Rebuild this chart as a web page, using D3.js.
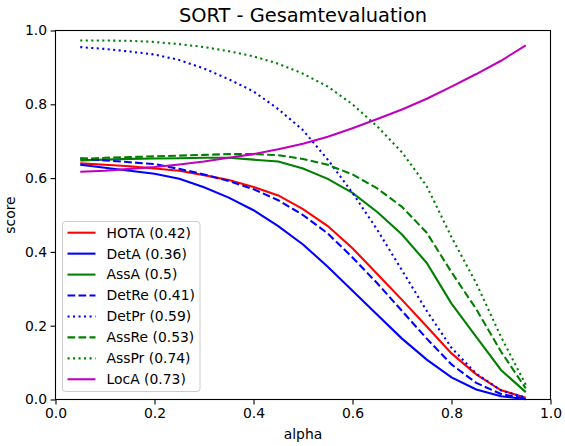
<!DOCTYPE html>
<html lang="en">
<head>
  <meta charset="UTF-8">
  <title>SORT - Gesamtevaluation</title>
  <style>
    body { margin: 0; background: #fff; }
    text { font-family: "DejaVu Sans", sans-serif; }
  </style>
</head>
<body>

  <svg id="svg" width="565" height="446"></svg>

  <script src="https://d3js.org/d3.v7.min.js"></script>
  <script>

    // alpha thresholds
    const alpha = [0.05, 0.1, 0.15, 0.2, 0.25, 0.3, 0.35, 0.4, 0.45, 0.5,
                   0.55, 0.6, 0.65, 0.7, 0.75, 0.8, 0.85, 0.9, 0.95]

    const hota  = [0.640, 0.636, 0.632, 0.626, 0.620, 0.608, 0.595, 0.576, 0.553, 0.516,
                   0.470, 0.410, 0.340, 0.270, 0.198, 0.125, 0.068, 0.025, 0.005]
    const detA  = [0.636, 0.628, 0.620, 0.612, 0.598, 0.575, 0.547, 0.513, 0.470, 0.420,
                   0.360, 0.295, 0.230, 0.165, 0.108, 0.060, 0.027, 0.009, 0.001]
    const assA  = [0.648, 0.650, 0.652, 0.653, 0.654, 0.655, 0.655, 0.650, 0.645, 0.626,
                   0.598, 0.560, 0.508, 0.447, 0.370, 0.260, 0.170, 0.080, 0.020]
    const detRe = [0.654, 0.648, 0.643, 0.638, 0.625, 0.610, 0.592, 0.570, 0.540, 0.500,
                   0.450, 0.385, 0.315, 0.240, 0.165, 0.095, 0.045, 0.015, 0.002]
    const detPr = [0.955, 0.950, 0.943, 0.935, 0.920, 0.897, 0.868, 0.835, 0.787, 0.730,
                   0.650, 0.560, 0.460, 0.350, 0.240, 0.140, 0.070, 0.025, 0.005]
    const assRe = [0.652, 0.655, 0.657, 0.659, 0.661, 0.663, 0.665, 0.665, 0.662, 0.652,
                   0.636, 0.610, 0.572, 0.522, 0.452, 0.345, 0.245, 0.130, 0.030]
    const assPr = [0.973, 0.973, 0.972, 0.969, 0.963, 0.955, 0.944, 0.930, 0.910, 0.883,
                   0.848, 0.800, 0.740, 0.670, 0.578, 0.440, 0.315, 0.170, 0.040]
    const locA  = [0.617, 0.620, 0.625, 0.630, 0.637, 0.645, 0.655, 0.665, 0.678, 0.693,
                   0.712, 0.735, 0.760, 0.786, 0.815, 0.848, 0.882, 0.918, 0.960]

    const labels = ['HOTA (0.42)', 'DetA (0.36)', 'AssA (0.5)', 'DetRe (0.41)',
                    'DetPr (0.59)', 'AssRe (0.53)', 'AssPr (0.74)', 'LocA (0.73)']
    const tickValues = [0, 0.2, 0.4, 0.6, 0.8, 1.0]

    const series = [
      { name: labels[0], values: hota,  color: '#ff0000', dash: null },
      { name: labels[1], values: detA,  color: '#0000ff', dash: null },
      { name: labels[2], values: assA,  color: '#008000', dash: null },
      { name: labels[3], values: detRe, color: '#0000ff', dash: '7.7,3.3' },
      { name: labels[4], values: detPr, color: '#0000ff', dash: '2.1,3.4' },
      { name: labels[5], values: assRe, color: '#008000', dash: '7.7,3.3' },
      { name: labels[6], values: assPr, color: '#008000', dash: '2.1,3.4' },
      { name: labels[7], values: locA,  color: '#bf00bf', dash: null }
    ]

    const mLeft = 55.5, mRight = 550.5, mTop = 30.5, mBottom = 399.5

    const xScale = d3.scaleLinear().domain([0, 1]).range([mLeft, mRight])
    const yScale = d3.scaleLinear().domain([0, 1]).range([mBottom, mTop])

    const svg = d3.select('#svg')

    const plot = svg.append('g')
    const line = d3.line()
      .x((d, i) => xScale(alpha[i]))
      .y(d => yScale(d))

    plot.selectAll('path')
      .data(series)
      .enter()
      .append('path')
      .attr('d', d => line(d.values))
      .attr('fill', 'none')
      .attr('stroke', d => d.color)
      .attr('stroke-width', 2.08)
      .attr('stroke-dasharray', d => d.dash)

    // axes
    const fmt = d3.format('.1f')
    const xAxis = svg.append('g')
      .attr('transform', `translate(0,${mBottom})`)
      .call(d3.axisBottom(xScale).tickValues(tickValues).tickFormat(fmt).tickSize(4.9).tickSizeOuter(0))
    const yAxis = svg.append('g')
      .attr('transform', `translate(${mLeft},0)`)
      .call(d3.axisLeft(yScale).tickValues(tickValues).tickFormat(fmt).tickSize(4.9).tickSizeOuter(0))

    ;[xAxis, yAxis].forEach(a => {
      a.select('.domain').remove()
      a.selectAll('line').attr('stroke', '#000').attr('stroke-width', 1.1)
      a.selectAll('text').attr('font-size', 13.9).attr('fill', '#000')
        .style('font-family', '"DejaVu Sans", sans-serif')
    })
    xAxis.selectAll('text').attr('dy', '0.71em').attr('y', 8.4)
    yAxis.selectAll('text').attr('x', -8.4)

    // frame
    svg.append('rect')
      .attr('x', mLeft).attr('y', mTop)
      .attr('width', mRight - mLeft).attr('height', mBottom - mTop)
      .attr('fill', 'none').attr('stroke', '#000').attr('stroke-width', 1.1)

    // title and labels
    svg.append('text')
      .attr('x', (mLeft + mRight) / 2).attr('y', 21.6)
      .attr('text-anchor', 'middle')
      .attr('font-size', 19.4)
      .text('SORT - Gesamtevaluation')

    svg.append('text')
      .attr('x', (mLeft + mRight) / 2).attr('y', 439)
      .attr('text-anchor', 'middle')
      .attr('font-size', 13.9)
      .text('alpha')

    svg.append('text')
      .attr('transform', `translate(15,${(mTop + mBottom) / 2}) rotate(-90)`)
      .attr('text-anchor', 'middle')
      .attr('font-size', 13.9)
      .text('score')

    // legend
    const legend = svg.append('g')
    legend.append('rect')
      .attr('x', 62.5).attr('y', 221.5)
      .attr('width', 137.5).attr('height', 170)
      .attr('rx', 3)
      .attr('fill', '#fff').attr('fill-opacity', 0.8)
      .attr('stroke', '#cccccc').attr('stroke-width', 1)

    const rows = legend.selectAll('g.row')
      .data(series)
      .enter()
      .append('g')
      .attr('transform', (d, i) => `translate(0,${232.7 + i * 20.94})`)

    rows.append('line')
      .attr('x1', 67.5).attr('x2', 95.5)
      .attr('stroke', d => d.color)
      .attr('stroke-width', 2.08)
      .attr('stroke-dasharray', d => d.dash)

    rows.append('text')
      .attr('x', 106.5).attr('dy', '0.35em')
      .attr('font-size', 13.9)
      .text(d => d.name)

  </script>
</body>
</html>
